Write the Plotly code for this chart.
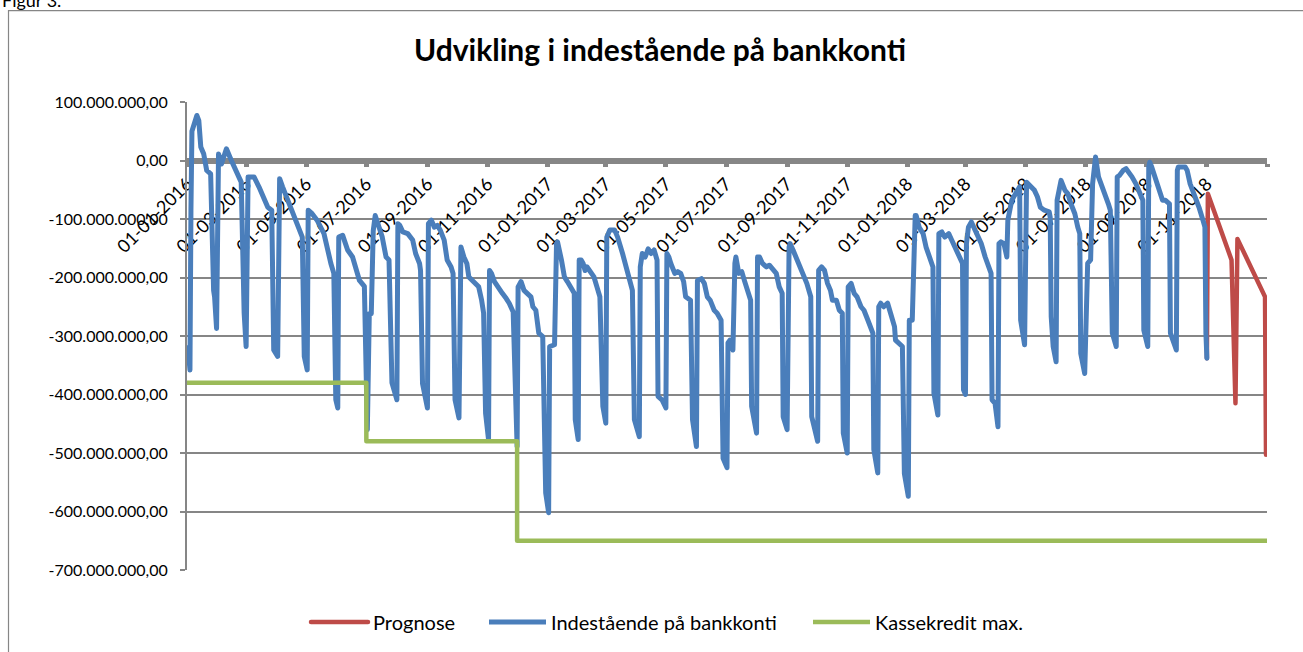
import plotly.graph_objects as go

# ---------------- data (values in millions of kr.) ----------------
blue_dates = [
    "2016-01-02", "2016-01-04", "2016-01-05", "2016-01-06", "2016-01-11", "2016-01-13", "2016-01-15", "2016-01-18",
    "2016-01-21", "2016-01-25", "2016-01-28", "2016-01-29", "2016-01-31",
    "2016-02-02", "2016-02-05", "2016-02-10", "2016-02-15", "2016-02-22", "2016-02-25", "2016-02-28", "2016-03-01",
    "2016-03-03", "2016-03-09", "2016-03-14", "2016-03-20", "2016-03-23", "2016-03-27", "2016-03-29", "2016-04-02",
    "2016-04-04", "2016-04-07", "2016-04-11", "2016-04-15", "2016-04-19", "2016-04-24", "2016-04-27", "2016-04-29", "2016-05-02",
    "2016-05-03", "2016-05-07", "2016-05-12", "2016-05-19", "2016-05-26", "2016-05-29", "2016-05-31", "2016-06-02",
    "2016-06-03", "2016-06-07", "2016-06-12", "2016-06-17", "2016-06-24", "2016-06-27", "2016-06-29", "2016-07-02",
    "2016-07-04", "2016-07-06", "2016-07-08", "2016-07-10", "2016-07-13", "2016-07-17", "2016-07-21", "2016-07-24", "2016-07-27", "2016-08-01",
    "2016-08-02", "2016-08-04", "2016-08-07", "2016-08-12", "2016-08-17", "2016-08-20", "2016-08-24", "2016-08-25", "2016-08-27", "2016-09-01",
    "2016-09-02", "2016-09-05", "2016-09-08", "2016-09-11", "2016-09-14", "2016-09-18", "2016-09-21", "2016-09-25", "2016-09-27", "2016-09-29", "2016-10-03",
    "2016-10-04", "2016-10-05", "2016-10-08", "2016-10-11", "2016-10-13", "2016-10-18", "2016-10-23", "2016-10-26", "2016-10-28", "2016-10-30", "2016-11-02",
    "2016-11-03", "2016-11-05", "2016-11-08", "2016-11-11", "2016-11-13", "2016-11-16", "2016-11-20", "2016-11-23", "2016-11-27", "2016-11-29", "2016-12-01",
    "2016-12-02", "2016-12-05", "2016-12-08", "2016-12-11", "2016-12-15", "2016-12-17", "2016-12-20", "2016-12-23", "2016-12-27", "2016-12-30", "2017-01-02",
    "2017-01-03", "2017-01-08", "2017-01-10", "2017-01-11", "2017-01-15", "2017-01-18", "2017-01-21", "2017-01-24", "2017-01-28", "2017-01-29", "2017-02-01",
    "2017-02-02", "2017-02-04", "2017-02-06", "2017-02-08", "2017-02-10", "2017-02-14", "2017-02-17", "2017-02-20", "2017-02-23", "2017-02-26", "2017-03-01",
    "2017-03-02", "2017-03-05", "2017-03-10", "2017-03-13", "2017-03-18", "2017-03-22", "2017-03-25", "2017-03-28", "2017-03-30", "2017-04-04",
    "2017-04-05", "2017-04-07", "2017-04-10", "2017-04-13", "2017-04-16", "2017-04-19", "2017-04-22", "2017-04-23", "2017-04-27", "2017-05-01",
    "2017-05-02", "2017-05-04", "2017-05-06", "2017-05-10", "2017-05-13", "2017-05-16", "2017-05-19", "2017-05-21", "2017-05-26", "2017-05-28", "2017-06-01",
    "2017-06-02", "2017-06-06", "2017-06-09", "2017-06-12", "2017-06-15", "2017-06-19", "2017-06-22", "2017-06-26", "2017-06-28", "2017-07-02",
    "2017-07-03", "2017-07-05", "2017-07-08", "2017-07-10", "2017-07-11", "2017-07-14", "2017-07-17", "2017-07-20", "2017-07-24", "2017-07-26", "2017-07-27", "2017-08-01",
    "2017-08-02", "2017-08-04", "2017-08-07", "2017-08-11", "2017-08-14", "2017-08-17", "2017-08-21", "2017-08-24", "2017-08-27", "2017-08-28", "2017-09-01",
    "2017-09-03", "2017-09-04", "2017-09-07", "2017-09-11", "2017-09-14", "2017-09-18", "2017-09-21", "2017-09-25", "2017-09-26", "2017-10-02",
    "2017-10-03", "2017-10-06", "2017-10-09", "2017-10-12", "2017-10-15", "2017-10-17", "2017-10-21", "2017-10-24", "2017-10-27", "2017-10-28", "2017-11-01",
    "2017-11-02", "2017-11-05", "2017-11-08", "2017-11-11", "2017-11-15", "2017-11-18", "2017-11-22", "2017-11-25", "2017-11-27", "2017-11-28", "2017-12-02",
    "2017-12-03", "2017-12-05", "2017-12-08", "2017-12-12", "2017-12-15", "2017-12-19", "2017-12-20", "2017-12-24", "2017-12-27", "2017-12-29", "2018-01-02",
    "2018-01-03", "2018-01-06", "2018-01-09", "2018-01-10", "2018-01-13", "2018-01-17", "2018-01-20", "2018-01-24", "2018-01-27", "2018-01-28", "2018-02-01",
    "2018-02-02", "2018-02-05", "2018-02-08", "2018-02-12", "2018-02-15", "2018-02-18", "2018-02-22", "2018-02-24", "2018-02-26", "2018-02-27", "2018-03-01",
    "2018-03-02", "2018-03-04", "2018-03-07", "2018-03-11", "2018-03-14", "2018-03-17", "2018-03-21", "2018-03-24", "2018-03-27", "2018-03-28", "2018-03-31", "2018-04-03",
    "2018-04-04", "2018-04-06", "2018-04-09", "2018-04-12", "2018-04-13", "2018-04-17", "2018-04-22", "2018-04-25", "2018-04-26", "2018-04-30",
    "2018-05-02", "2018-05-05", "2018-05-10", "2018-05-13", "2018-05-16", "2018-05-20", "2018-05-25", "2018-05-26", "2018-05-27", "2018-05-29", "2018-06-01",
    "2018-06-02", "2018-06-06", "2018-06-10", "2018-06-13", "2018-06-16", "2018-06-20", "2018-06-23", "2018-06-25", "2018-06-26", "2018-06-30",
    "2018-07-03", "2018-07-06", "2018-07-08", "2018-07-11", "2018-07-14", "2018-07-18", "2018-07-21", "2018-07-24", "2018-07-26", "2018-07-28", "2018-08-01",
    "2018-08-02", "2018-08-04", "2018-08-08", "2018-08-11", "2018-08-14", "2018-08-17", "2018-08-21", "2018-08-26", "2018-08-28", "2018-08-29", "2018-09-02",
    "2018-09-03", "2018-09-04", "2018-09-06", "2018-09-10", "2018-09-13", "2018-09-17", "2018-09-20", "2018-09-24", "2018-09-25", "2018-10-01",
    "2018-10-02", "2018-10-03", "2018-10-10", "2018-10-12", "2018-10-15", "2018-10-19", "2018-10-24", "2018-10-28", "2018-10-30", "2018-10-31", "2018-11-01",
]
blue_values = [
    -320, -358, -85, 50, 77, 68, 23, 11,
    -17, -23, -222, -233, -287,
    11, -6, 20, 0, -23, -37, -261, -318,
    -28, -28, -45, -68, -80, -85, -324, -335,
    -31, -45, -62, -80, -94, -114, -131, -335, -358,
    -85, -91, -102, -125, -176, -193, -409, -423,
    -131, -128, -153, -165, -205, -210, -215, -460,
    -262, -262, -120, -94, -110, -130, -165, -170, -380, -409,
    -108, -111, -122, -125, -136, -159, -176, -188, -381, -423,
    -108, -102, -114, -111, -119, -136, -170, -182, -193, -409, -440,
    -153, -148, -165, -176, -199, -207, -216, -239, -261, -432, -477,
    -188, -193, -207, -216, -222, -227, -236, -244, -259, -409, -489,
    -216, -207, -222, -227, -233, -250, -256, -295, -301, -568, -602,
    -318, -315, -142, -139, -170, -199, -207, -216, -227, -443, -477,
    -170, -170, -176, -188, -182, -193, -199, -216, -233, -420, -449,
    -131, -119, -119, -131, -159, -182, -205, -222, -443, -472,
    -182, -159, -165, -151, -159, -153, -170, -403, -409, -423,
    -159, -165, -176, -193, -190, -193, -207, -233, -239, -443, -489,
    -205, -202, -210, -233, -239, -256, -261, -273, -509, -525,
    -312, -307, -324, -176, -165, -193, -190, -207, -227, -239, -420, -466,
    -165, -165, -176, -182, -179, -185, -193, -216, -227, -438, -460,
    -148, -142, -153, -170, -182, -199, -210, -233, -438, -480,
    -188, -182, -188, -210, -222, -239, -239, -256, -261, -466, -500,
    -216, -210, -227, -233, -250, -256, -273, -290, -295, -494, -534,
    -250, -244, -250, -244, -261, -284, -307, -312, -318, -535, -574,
    -273, -273, -94, -94, -114, -125, -148, -165, -182, -398, -435,
    -125, -122, -131, -125, -136, -148, -165, -170, -176, -392, -400,
    -142, -114, -105, -119, -131, -142, -165, -182, -193, -409, -415, -455,
    -142, -139, -142, -165, -102, -68, -51, -45, -273, -315,
    -37, -43, -51, -62, -80, -85, -88, -97, -267, -318, -344,
    -68, -34, -51, -57, -74, -91, -114, -125, -330, -364,
    -176, -170, -40, 6, -28, -45, -57, -74, -85, -295, -318,
    -28, -26, -17, -14, -20, -28, -40, -57, -68, -290, -318,
    -11, -3, -11, -34, -51, -68, -68, -74, -295, -324,
    -17, -11, -11, -17, -40, -57, -80, -102, -114, -295, -338,
]

red_dates = ["2018-11-01", "2018-11-02", "2018-11-26", "2018-11-30", "2018-12-02", "2018-12-30", "2018-12-31"]
red_values = [-338, -57, -170, -415, -134, -233, -503]

green_dates = ["2016-01-01", "2016-07-01", "2016-12-01", "2019-01-01"]
green_values = [-380, -480, -650, -650]

series_names = ["Prognose", "Indestående på bankkonti", "Kassekredit max."]
y_tickvals = [100, 0, -100, -200, -300, -400, -500, -600, -700]
y_ticktext = ["100.000.000,00", "0,00", "-100.000.000,00", "-200.000.000,00", "-300.000.000,00",
              "-400.000.000,00", "-500.000.000,00", "-600.000.000,00", "-700.000.000,00"]
x_tickvals = ["2016-01-01", "2016-03-01", "2016-05-01", "2016-07-01", "2016-09-01", "2016-11-01",
              "2017-01-01", "2017-03-01", "2017-05-01", "2017-07-01", "2017-09-01", "2017-11-01",
              "2018-01-01", "2018-03-01", "2018-05-01", "2018-07-01", "2018-09-01", "2018-11-01",
              "2019-01-01"]
x_ticktext = ["01-01-2016", "01-03-2016", "01-05-2016", "01-07-2016", "01-09-2016", "01-11-2016",
              "01-01-2017", "01-03-2017", "01-05-2017", "01-07-2017", "01-09-2017", "01-11-2017",
              "01-01-2018", "01-03-2018", "01-05-2018", "01-07-2018", "01-09-2018", "01-11-2018",
              ""]

# ---------------- figure ----------------
W, H = 1303, 652
L, R, T, B = 187, 36, 102, 81
PW, PH = W - L - R, H - T - B


def px_x(px):
    return (px - L) / PW


def px_y(py):
    return (H - B - py) / PH


FONT = "Lato"
GRAY = "#868686"

fig = go.Figure()
fig.add_trace(go.Scatter(x=red_dates, y=red_values, mode="lines", name=series_names[0],
                         line=dict(color="#BE4B48", width=4.5), legend="legend"))
fig.add_trace(go.Scatter(x=blue_dates, y=blue_values, mode="lines", name=series_names[1],
                         line=dict(color="#4A7EBB", width=5), legend="legend2"))
fig.add_trace(go.Scatter(x=green_dates, y=green_values, mode="lines", name=series_names[2],
                         line=dict(color="#9BBB59", width=4.5, shape="hv"), legend="legend3"))

leg_common = dict(orientation="h", yanchor="middle", xanchor="left", bgcolor="rgba(0,0,0,0)",
                  itemwidth=57, font=dict(family=FONT, size=20, color="#000000"))

fig.update_layout(
    width=W, height=H,
    margin=dict(l=L, r=R, t=T, b=B),
    paper_bgcolor="white", plot_bgcolor="white",
    font=dict(family=FONT, color="#000000"),
    title=dict(text="<b>Udvikling i indestående på bankkonti</b>", xref="container", yref="container",
               x=660 / W, y=1 - 50 / H, xanchor="center", yanchor="middle",
               font=dict(family=FONT, size=30, color="#000000")),
    xaxis=dict(type="date", range=["2016-01-01", "2019-01-01"], anchor="free", position=0.875,
               showline=True, linecolor=GRAY, linewidth=6, ticks="outside", ticklen=3, tickwidth=5,
               tickcolor=GRAY, tickvals=x_tickvals, ticktext=x_ticktext, tickangle=-45,
               tickfont=dict(family=FONT, size=18, color="#000000"), showgrid=False, zeroline=False,
               layer="below traces"),
    yaxis=dict(range=[-700, 100], tickvals=y_tickvals, ticktext=y_ticktext, showline=True, linecolor=GRAY,
               linewidth=2, ticks="outside", ticklen=5, tickcolor=GRAY, tickwidth=1.5, showgrid=True,
               gridcolor=GRAY, gridwidth=1.5, zeroline=False, ticklabelstandoff=9,
               tickfont=dict(family=FONT, size=16, color="#000000")),
    legend=dict(x=px_x(306), y=px_y(622), **leg_common),
    legend2=dict(x=px_x(484), y=px_y(622), **leg_common),
    legend3=dict(x=px_x(808), y=px_y(622), **leg_common),
    showlegend=True,
)

# outer chart frame and caption
fig.add_shape(type="rect", xref="paper", yref="paper", x0=px_x(8.5), x1=px_x(1320), y0=px_y(670), y1=px_y(10.5),
              line=dict(color=GRAY, width=1.2), fillcolor="rgba(0,0,0,0)", layer="below")
fig.add_annotation(text="Figur 3.", xref="paper", yref="paper", x=px_x(0), y=px_y(13), xanchor="left",
                   yanchor="bottom", showarrow=False, font=dict(family=FONT, size=18, color="#000000"))

POST = (
    "document.body.style.margin='0px';document.body.style.overflow='hidden';"
    "document.querySelectorAll('.scatterlayer path.js-line, .legend path.js-line').forEach(function(p){"
    "p.style.strokeLinejoin='round';p.style.strokeLinecap='round';});"
)
fig.write_html("out.html", config={"displayModeBar": False}, post_script=POST)
